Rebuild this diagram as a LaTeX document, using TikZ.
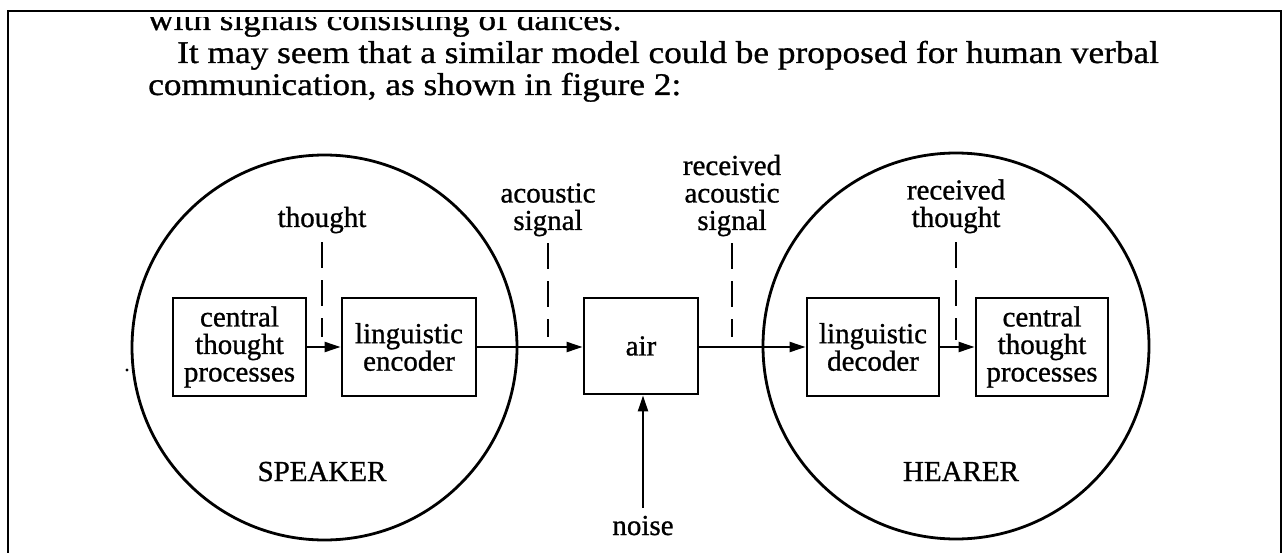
\documentclass[tikz,border=0pt]{standalone}
\usepackage{fontspec}
\setmainfont[FakeBold=0.6]{Liberation Serif}
\newfontfamily\figfont[FakeBold=0.9]{Liberation Serif}
\newfontfamily\bodyfont[FakeStretch=1.12,FakeBold=0.9]{Liberation Serif}
\usetikzlibrary{arrows.meta}

\begin{document}
\begin{tikzpicture}[x=1pt,y=-1pt,
  unit/.style={draw, line width=2.9pt, minimum width=133pt, minimum height=98pt,
    align=center, inner sep=0pt, font=\figfont\fontsize{29}{27.5}\selectfont},
  lbl/.style={align=center, inner sep=0pt, font=\figfont\fontsize{29}{27.5}\selectfont},
  flow/.style={line width=2.3pt, -{Triangle[length=16pt,width=10pt]}},
  tap/.style={line width=2.7pt, dash pattern=on 26pt off 12pt},
  person/.style={draw, circle, line width=2.8pt, minimum size=385pt, inner sep=0pt},
  para/.style={anchor=base west, inner sep=0pt, font=\bodyfont\fontsize{31.5}{33}\selectfont}
]
\useasboundingbox (0,0) rectangle (1287,553);

% page frame
\draw[line width=2.3pt] (8,553) -- (8,11) -- (1281,11) -- (1281,553);

% running text
\begin{scope}
  \clip (0,18) rectangle (1287,40);
  \node[para] (l1) at (148,30) {with signals consisting of dances.};
\end{scope}
\node[para] (l2) at (177,63) {It may seem that a similar model could be proposed for human verbal};
\node[para] (l3) at (148,95) {communication, as shown in figure 2:};

% speaker and hearer
\node[person] (spk) at (324.5,347.5) {};
\node[person, minimum size=386pt] (hr) at (956,346) {};
\node[lbl, anchor=base] (spkname) at (322,481) {SPEAKER};
\node[lbl, anchor=base] (hrname) at (961,481) {HEARER};

% processing units
\node[unit] (ctp1) at (239.5,347) {central\\thought\\processes};
\node[unit, minimum width=134pt] (enc) at (409,347) {linguistic\\encoder};
\node[unit, minimum width=114pt, minimum height=96pt] (air) at (641,346) {air};
\node[unit, minimum width=132pt] (dec) at (873,347) {linguistic\\decoder};
\node[unit, minimum width=132pt] (ctp2) at (1042,347) {central\\thought\\processes};

% signal labels
\node[lbl, anchor=base] (th) at (322,227) {thought};
\node[lbl, anchor=base] (as) at (548,230) {acoustic\\signal};
\node[lbl, anchor=base] (ras) at (732,230) {received\\acoustic\\signal};
\node[lbl, anchor=base] (rth) at (956,227) {received\\thought};
\node[lbl, anchor=base] (noise) at (643,535) {noise};

% lower ends of the dashed taps
\coordinate (thB) at (322,337);
\coordinate (asB) at (548,337);
\coordinate (rasB) at (732,337);
\coordinate (rthB) at (956,340);

% flow of the signal
\draw[flow] (ctp1) -- (enc);
\draw[flow] (enc.east) -- (enc.east -| air.west);
\draw[flow] (air.east |- dec.west) -- (dec.west);
\draw[flow] (dec) -- (ctp2);
\draw[flow] ([yshift=8pt]noise.north) -- (noise.north |- air.south);

% taps naming what passes along each link
\draw[tap] ([yshift=-9pt]th.south) -- (thB);
\draw[tap] ([yshift=-7pt]as.south) -- (asB);
\draw[tap] ([yshift=-7pt]ras.south) -- (rasB);
\draw[tap] ([yshift=-9pt]rth.south) -- (rthB);

% stray mark
\fill (127,370) circle (1.7pt);
\end{tikzpicture}
\end{document}
